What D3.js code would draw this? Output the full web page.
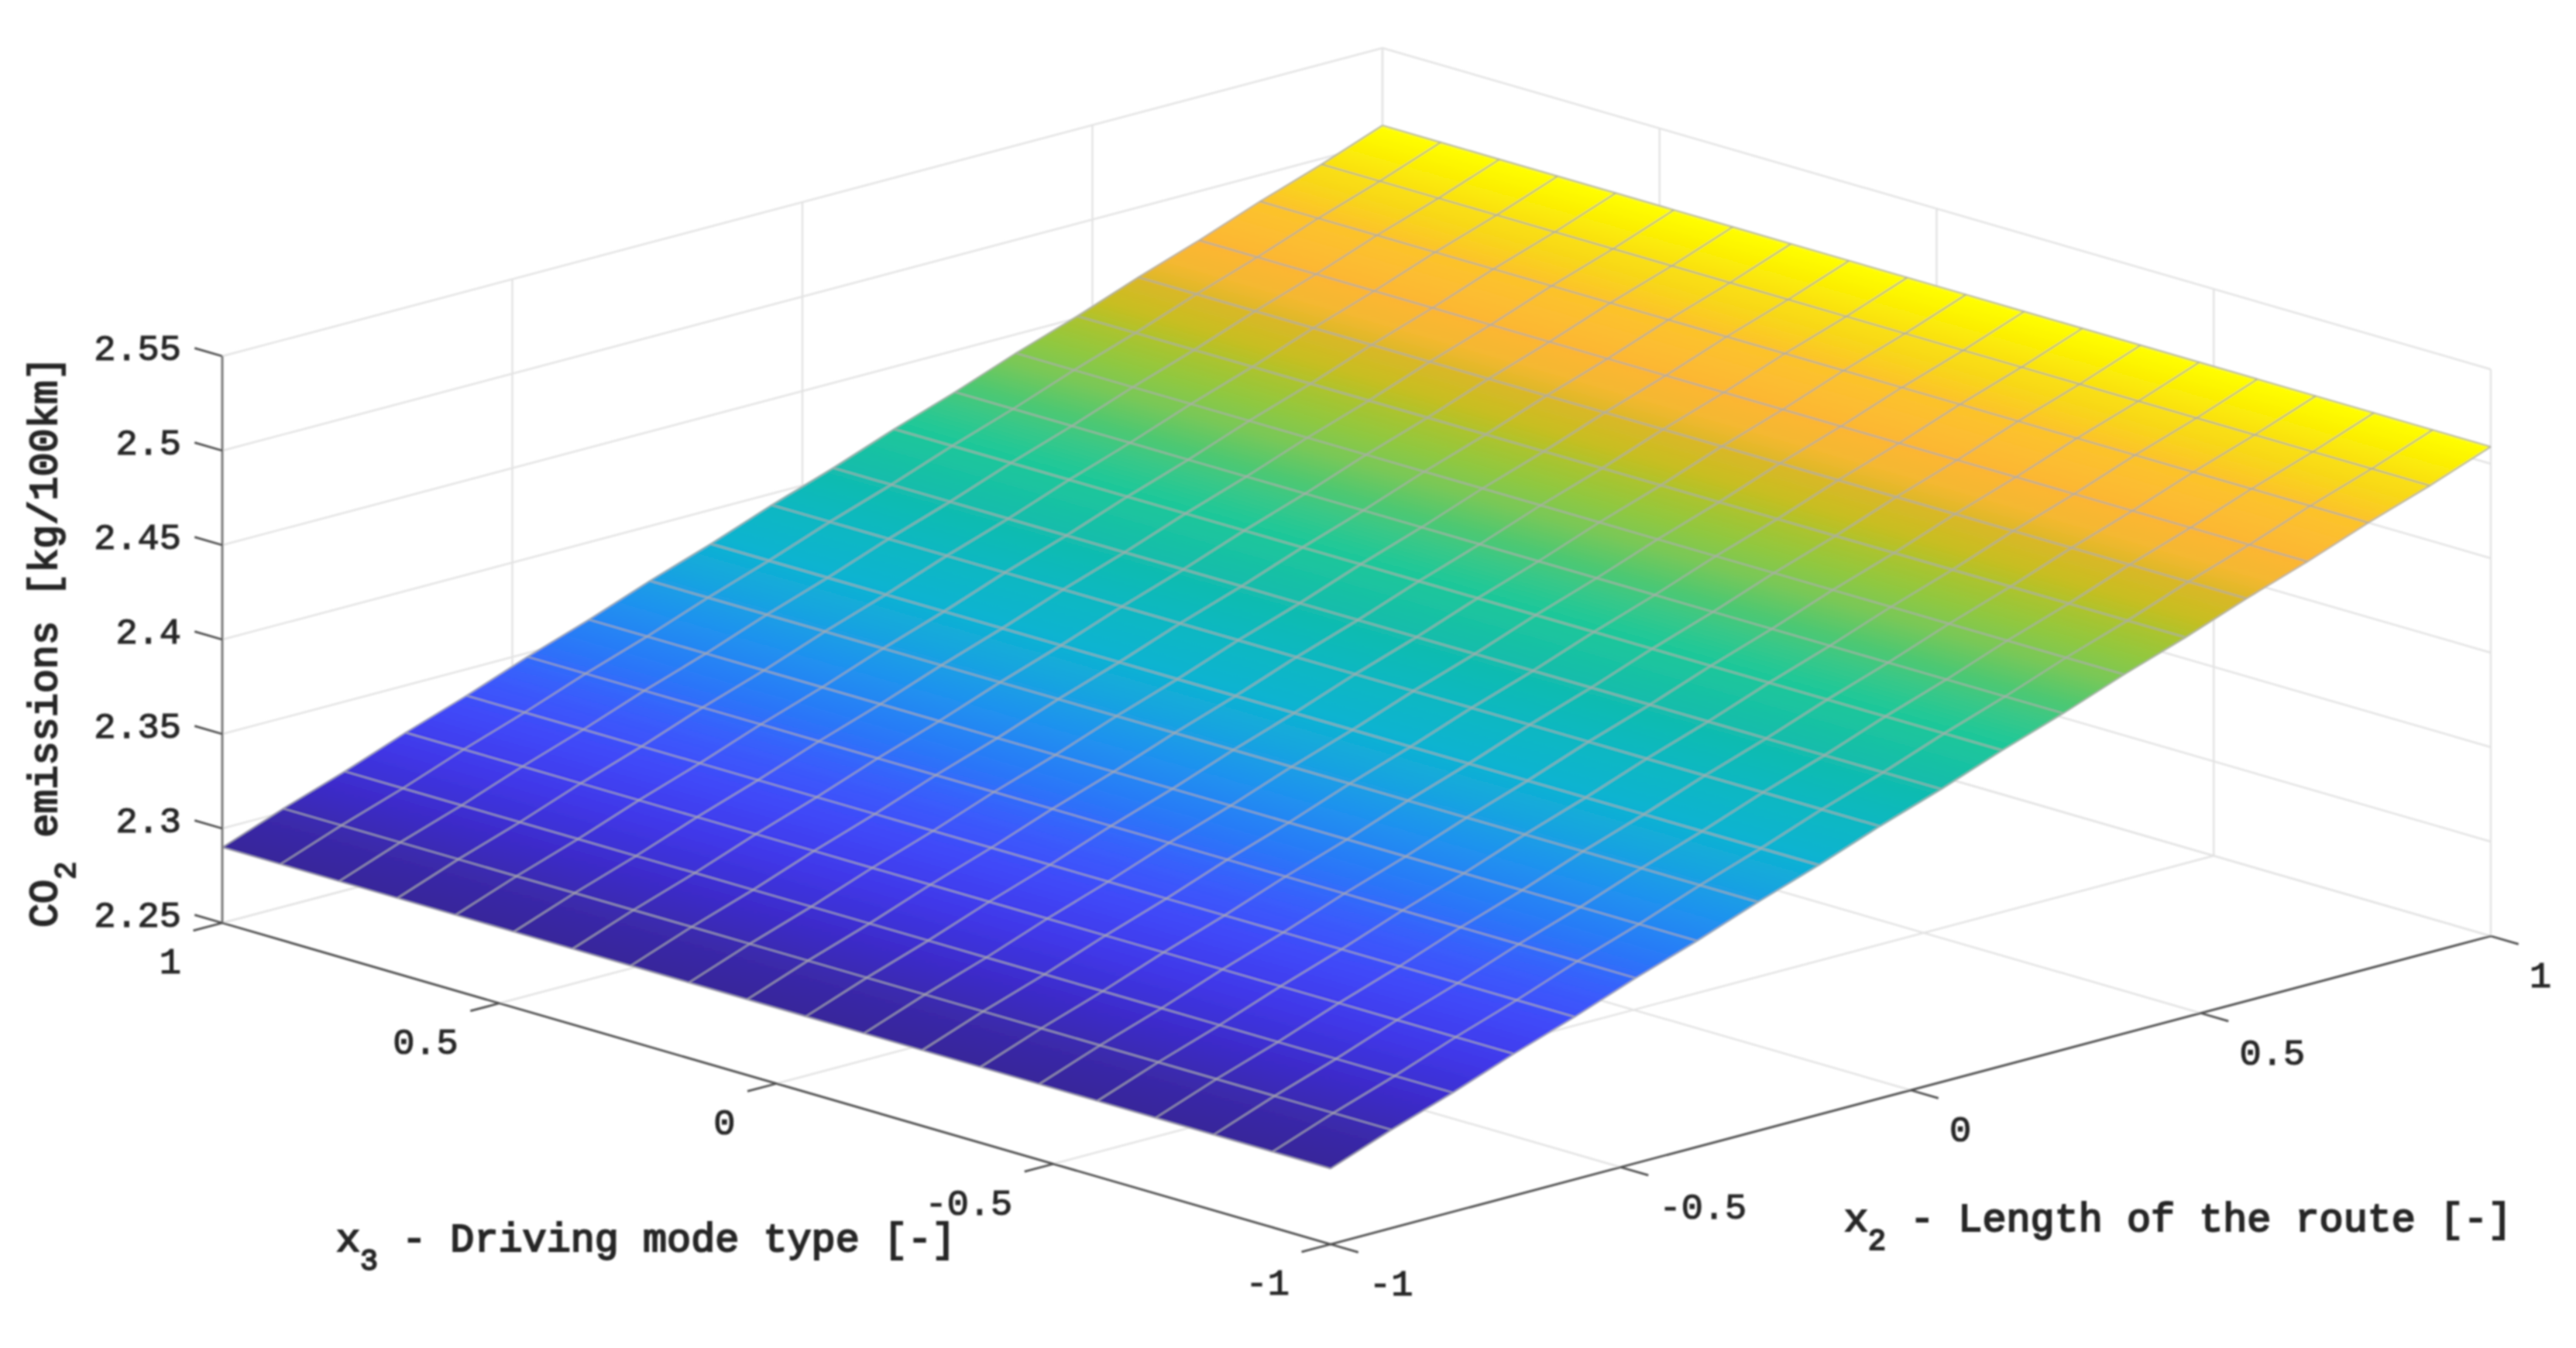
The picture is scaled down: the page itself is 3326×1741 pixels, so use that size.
<!DOCTYPE html>
<html>
<head>
<meta charset="utf-8">
<script src="https://cdn.jsdelivr.net/npm/d3@7"></script>
<style>
    html, body { margin: 0; padding: 0; background: #fff; overflow: hidden; }
    text { font-family: "Liberation Mono", monospace; fill: #262626; stroke: #262626; }
</style>
</head>
<body>
<div id="chart"></div>
<script>
// Mesh nodes of the surface
const x2Nodes = [-1, -0.895, -0.789, -0.684, -0.579, -0.474, -0.368, -0.263, -0.158, -0.053,
    0.053, 0.158, 0.263, 0.368, 0.474, 0.579, 0.684, 0.789, 0.895, 1];
const x3Nodes = [-1, -0.895, -0.789, -0.684, -0.579, -0.474, -0.368, -0.263, -0.158, -0.053,
    0.053, 0.158, 0.263, 0.368, 0.474, 0.579, 0.684, 0.789, 0.895, 1];

// CO2 value read for each x2 node (the surface does not change along x3)
const co2ByX2 = [2.290, 2.302, 2.313, 2.325, 2.336, 2.348, 2.359, 2.371, 2.382, 2.394,
    2.405, 2.417, 2.428, 2.440, 2.451, 2.463, 2.474, 2.486, 2.497, 2.509];

// Tick labels
const x2Ticks = [-1, -0.5, 0, 0.5, 1];
const x3Ticks = [-1, -0.5, 0, 0.5, 1];
const zTicks = [2.25, 2.3, 2.35, 2.4, 2.45, 2.5, 2.55];

// Colours of the surface, read along the slope
const colorLevels = [2.290, 2.299, 2.310, 2.321, 2.332, 2.342, 2.353, 2.364, 2.374, 2.384, 2.395,
    2.406, 2.419, 2.425, 2.431, 2.4375, 2.444, 2.450, 2.456, 2.462, 2.468, 2.474, 2.4805, 2.4865,
    2.4926, 2.4986, 2.505, 2.509];
const colorValues = ['#38259a', '#3a29aa', '#3c2ccc', '#4038e8', '#4048f8', '#3a5cfc', '#2a78f8',
    '#2090f0', '#18a4e0', '#0cb4d0', '#08b8c0', '#14bdab', '#20c898', '#38c888', '#50c870', '#78c858',
    '#90c840', '#a8c430', '#c8be20', '#d8b828', '#f4b830', '#fcb634', '#fcbe30', '#fcc42a',
    '#f8d61a', '#fae30e', '#fdf500', '#ffff08'];

const width = 3326;
const height = 1741;

const svg = d3.select('#chart')
    .append('svg')
    .attr('width', width)
    .attr('height', height)
    .attr('viewBox', [0, 0, width, height]);

const defs = svg.append('defs');
defs.append('filter')
    .attr('id', 'soft')
    .attr('filterUnits', 'userSpaceOnUse')
    .attr('x', 0).attr('y', 0).attr('width', width).attr('height', height)
    .append('feGaussianBlur')
    .attr('stdDeviation', 1);

const g = svg.append('g').attr('filter', 'url(#soft)');

// Oblique projection: each data axis gets its own screen x and y scale
const x2ToX = d3.scaleLinear().domain([-1, 1]).range([0, 1498]);
const x2ToY = d3.scaleLinear().domain([-1, 1]).range([0, -398]);
const x3ToX = d3.scaleLinear().domain([1, -1]).range([0, 1431]);
const x3ToY = d3.scaleLinear().domain([1, -1]).range([0, 415]);
const zToY = d3.scaleLinear().domain([2.25, 2.55]).range([1192, 460]);
const leftX = 287;

function project(x2, x3, z) {
    return [leftX + x2ToX(x2) + x3ToX(x3), zToY(z) + x2ToY(x2) + x3ToY(x3)];
}

const line = d3.line();
const zMin = zTicks[0];
const zMax = zTicks[zTicks.length - 1];

function drawLine(parent, points, color, strokeWidth) {
    parent.append('path')
        .attr('d', line(points))
        .attr('fill', 'none')
        .attr('stroke', color)
        .attr('stroke-width', strokeWidth);
}

// Back walls and floor grid
const grid = g.append('g').attr('class', 'grid');
const gridColor = '#e3e3e3';
x2Ticks.forEach(v => {
    drawLine(grid, [project(v, -1, zMin), project(v, 1, zMin), project(v, 1, zMax)], gridColor, 2.4);
});
x3Ticks.forEach(v => {
    drawLine(grid, [project(-1, v, zMin), project(1, v, zMin), project(1, v, zMax)], gridColor, 2.4);
});
zTicks.forEach(v => {
    drawLine(grid, [project(-1, 1, v), project(1, 1, v), project(1, -1, v)], gridColor, 2.4);
});

// Surface fill
const colorScale = d3.scaleLinear().domain(colorLevels).range(colorValues);
const zLow = co2ByX2[0];
const zHigh = co2ByX2[co2ByX2.length - 1];

// Gradient runs square to the lines of constant x2
const gradStart = project(-1, 1, zLow);
const gradEnd = project(1, 1, zHigh);
const alongX = x3ToX(-1) - x3ToX(1);
const alongY = x3ToY(-1) - x3ToY(1);
const normX = alongY;
const normY = -alongX;
const normLen = ((gradEnd[0] - gradStart[0]) * normX + (gradEnd[1] - gradStart[1]) * normY) / (normX * normX + normY * normY);

const gradient = defs.append('linearGradient')
    .attr('id', 'surfaceFill')
    .attr('gradientUnits', 'userSpaceOnUse')
    .attr('x1', gradStart[0])
    .attr('y1', gradStart[1])
    .attr('x2', gradStart[0] + normX * normLen)
    .attr('y2', gradStart[1] + normY * normLen);
gradient.selectAll('stop')
    .data(colorLevels)
    .join('stop')
    .attr('offset', d => (d - zLow) / (zHigh - zLow))
    .attr('stop-color', d => colorScale(d));

// One polygon per mesh cell
const cells = [];
d3.range(x2Nodes.length - 1).forEach(i => {
    d3.range(x3Nodes.length - 1).forEach(j => {
        cells.push([
            project(x2Nodes[i], x3Nodes[j], co2ByX2[i]),
            project(x2Nodes[i + 1], x3Nodes[j], co2ByX2[i + 1]),
            project(x2Nodes[i + 1], x3Nodes[j + 1], co2ByX2[i + 1]),
            project(x2Nodes[i], x3Nodes[j + 1], co2ByX2[i])
        ]);
    });
});
g.append('g')
    .attr('class', 'surface')
    .selectAll('path')
    .data(cells)
    .join('path')
    .attr('d', d => line(d) + 'Z')
    .attr('fill', 'url(#surfaceFill)')
    .attr('stroke', 'url(#surfaceFill)')
    .attr('stroke-width', 1);

// Mesh lines
const mesh = g.append('g').attr('class', 'mesh').attr('stroke-opacity', 0.8);
const meshColor = '#adadad';
x2Nodes.forEach((v, i) => {
    drawLine(mesh, x3Nodes.map(u => project(v, u, co2ByX2[i])), meshColor, 2.2);
});
x3Nodes.forEach(u => {
    drawLine(mesh, x2Nodes.map((v, i) => project(v, u, co2ByX2[i])), meshColor, 2.2);
});

// Axis lines and ticks
const axes = g.append('g').attr('class', 'axes');
const axisColor = '#505050';
drawLine(axes, [project(-1, 1, zMin), project(-1, -1, zMin), project(1, -1, zMin)], axisColor, 2.8);
drawLine(axes, [project(-1, 1, zMin), project(-1, 1, zMax)], '#787878', 3);

const tickLen = 0.05;
x3Ticks.forEach(v => {
    drawLine(axes, [project(-1, v, zMin), project(-1 - tickLen, v, zMin)], axisColor, 2.8);
});
x2Ticks.forEach(v => {
    drawLine(axes, [project(v, -1, zMin), project(v, -1 - tickLen, zMin)], axisColor, 2.8);
});
zTicks.forEach(v => {
    drawLine(axes, [project(-1, 1, v), project(-1, 1 + tickLen, v)], axisColor, 2.8);
});

// Tick labels
const labels = g.append('g').attr('class', 'labels');
const tickFont = 47;
const titleFont = 51.8;

function addTick(p, dx, dy, anchor, v) {
    labels.append('text')
        .attr('x', p[0] + dx)
        .attr('y', p[1] + dy)
        .attr('dy', '0.35em')
        .attr('text-anchor', anchor)
        .attr('font-size', tickFont)
        .attr('stroke-width', 1.2)
        .text(v);
}
x3Ticks.forEach(v => addTick(project(-1, v, zMin), -53, 49, 'end', v));
x2Ticks.forEach(v => addTick(project(v, -1, zMin), 50, 50, 'start', v));
zTicks.forEach(v => addTick(project(-1, 1, v), -53, -11, 'end', v));

// Axis titles with a subscript
function addTitle(x, y, rotate, lead, sub, rest) {
    const t = labels.append('text')
        .attr('transform', `translate(${x},${y}) rotate(${rotate})`)
        .attr('font-size', titleFont)
        .attr('stroke-width', 2.1);
    t.append('tspan').text(lead);
    t.append('tspan').attr('font-size', titleFont * 0.74).attr('dy', 24).text(sub);
    t.append('tspan').attr('dy', -24).text(rest);
}
addTitle(2381, 1590, 0, 'x', '2', ' - Length of the route [-]');
addTitle(434, 1616, 0, 'x', '3', ' - Driving mode type [-]');
addTitle(73, 1198, -90, 'CO', '2', ' emissions [kg/100km]');
</script>
</body>
</html>
